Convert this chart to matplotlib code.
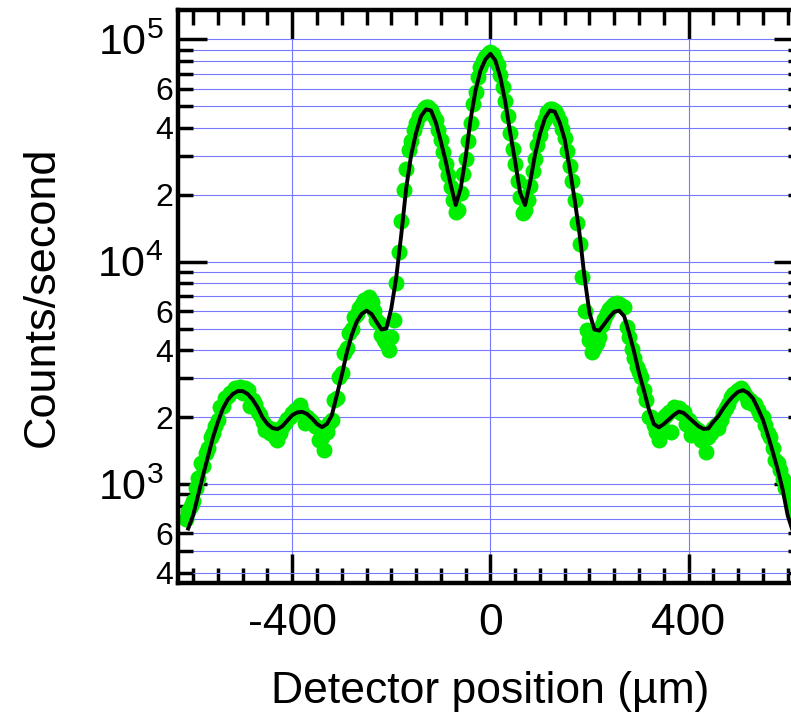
import matplotlib
matplotlib.use("Agg")
import matplotlib.pyplot as plt
from matplotlib.ticker import MultipleLocator, FixedLocator, FixedFormatter

plt.rcParams['font.family'] = ['Liberation Sans', 'DejaVu Sans']
plt.rcParams['mathtext.fontset'] = 'custom'
plt.rcParams['mathtext.rm'] = 'Liberation Sans'
plt.rcParams['mathtext.it'] = 'Liberation Sans:italic'
plt.rcParams['mathtext.bf'] = 'Liberation Sans:bold'

# ---- measured data (detector position in um, counts/second) ----
data_x = [
    -615, -610, -605, -600, -595, -590, -585, -580, -575, -570,
    -565, -560, -555, -550, -545, -540, -535, -530, -525, -520,
    -515, -510, -505, -500, -495, -490, -485, -480, -475, -470,
    -465, -460, -455, -450, -445, -440, -435, -430, -425, -420,
    -415, -410, -405, -400, -395, -390, -385, -380, -375, -370,
    -365, -360, -355, -350, -345, -340, -335, -330, -325, -320,
    -315, -310, -305, -300, -295, -290, -285, -280, -275, -270,
    -265, -260, -255, -250, -245, -240, -235, -230, -225, -220,
    -215, -210, -205, -200, -195, -190, -185, -180, -175, -170,
    -165, -160, -155, -150, -145, -140, -135, -130, -125, -120,
    -115, -110, -105, -100, -95, -90, -85, -80, -75, -70,
    -65, -60, -55, -50, -45, -40, -35, -30, -25, -20,
    -15, -10, -5, 0, 5, 10, 15, 20, 25, 30,
    35, 40, 45, 50, 55, 60, 65, 70, 75, 80,
    85, 90, 95, 100, 105, 110, 115, 120, 125, 130,
    135, 140, 145, 150, 155, 160, 165, 170, 175, 180,
    185, 190, 195, 200, 205, 210, 215, 220, 225, 230,
    235, 240, 245, 250, 255, 260, 265, 270, 275, 280,
    285, 290, 295, 300, 305, 310, 315, 320, 325, 330,
    335, 340, 345, 350, 355, 360, 365, 370, 375, 380,
    385, 390, 395, 400, 405, 410, 415, 420, 425, 430,
    435, 440, 445, 450, 455, 460, 465, 470, 475, 480,
    485, 490, 495, 500, 505, 510, 515, 520, 525, 530,
    535, 540, 545, 550, 555, 560, 565, 570, 575, 580,
    585, 590, 595, 600, 605, 610, 615,
]
data_y = [
    700, 760, 800, 840, 960, 1060, 1250, 1200, 1380, 1450,
    1620, 1700, 1820, 1950, 2230, 2250, 2450, 2500, 2560, 2620,
    2700, 2640, 2720, 2580, 2700, 2650, 2250, 2400, 2300, 2100,
    2050, 1900, 1750, 1800, 1700, 1760, 1620, 1580, 1700, 1800,
    1880, 1960, 2010, 2080, 2150, 2180, 2260, 2120, 1880, 2000,
    1950, 1900, 1820, 1800, 1580, 1620, 1430, 1720, 1880, 1950,
    2380, 2450, 3040, 3150, 3870, 4100, 4760, 5000, 5650, 5800,
    6200, 6480, 6700, 6800, 6950, 6600, 6000, 5460, 5300, 4700,
    4440, 4300, 4000, 4580, 5460, 8000, 11000, 15300, 21000, 26100,
    31700, 35000, 39000, 42000, 45000, 46300, 48500, 49600, 49600, 48000,
    45500, 43300, 39000, 35200, 31000, 27600, 24500, 21700, 19000, 16800,
    17100, 20300, 24900, 29000, 34800, 41900, 51000, 58000, 68000, 75000,
    80000, 83200, 86000, 87500, 86000, 82000, 77000, 69000, 61000, 53000,
    45000, 38000, 32000, 27500, 23000, 19500, 16500, 17000, 19000, 22000,
    25500, 29000, 33500, 37000, 41000, 44000, 47000, 48500, 48800, 47500,
    45500, 43000, 39500, 36000, 31500, 27000, 23000, 19000, 15000, 12000,
    8500, 6000, 4930, 4440, 3930, 4100, 4300, 4590, 5190, 5500,
    5850, 6100, 6300, 6450, 6500, 6450, 6300, 6280, 5100, 4600,
    4070, 3700, 3370, 3200, 3030, 2650, 2380, 2000, 2000, 1850,
    1720, 1577, 1900, 2000, 2050, 2110, 1720, 2230, 2150, 2200,
    2080, 2100, 1870, 1950, 1660, 1800, 1700, 1750, 1577, 1650,
    1400, 1633, 1700, 1780, 1850, 1780, 1950, 2080, 2200, 2300,
    2470, 2550, 2600, 2650, 2700, 2620, 2500, 2340, 2400, 2300,
    2300, 2150, 2050, 2000, 1850, 1700, 1633, 1450, 1280, 1250,
    1155, 1050, 960, 950, 880, 800, 740,
]

# ---- fitted curve ----
fit_x = [
    -610, -600, -590, -580, -570, -560, -550, -540, -530, -520,
    -510, -500, -490, -480, -470, -460, -450, -440, -430, -420,
    -410, -400, -390, -380, -370, -360, -350, -340, -330, -320,
    -310, -300, -290, -280, -270, -260, -250, -240, -230, -220,
    -210, -200, -190, -180, -170, -160, -150, -140, -130, -120,
    -110, -100, -90, -80, -70, -60, -50, -40, -30, -20,
    -10, 0, 10, 20, 30, 40, 50, 60, 70, 80,
    90, 100, 110, 120, 130, 140, 150, 160, 170, 180,
    190, 200, 210, 220, 230, 240, 250, 260, 270, 280,
    290, 300, 310, 320, 330, 340, 350, 360, 370, 380,
    390, 400, 410, 420, 430, 440, 450, 460, 470, 480,
    490, 500, 510, 520, 530, 540, 550, 560, 570, 580,
    590, 600, 610,
]
fit_y = [
    631, 724, 891, 1096, 1334, 1622, 1905, 2188, 2399, 2541,
    2618, 2618, 2541, 2399, 2213, 1995, 1862, 1786, 1766, 1820,
    1928, 2042, 2099, 2113, 2065, 1972, 1862, 1803, 1862, 2042,
    2512, 3090, 3890, 4677, 5370, 5821, 6026, 5821, 5370, 4955,
    5012, 6166, 8511, 13183, 21380, 30200, 38019, 45186, 48417, 47863,
    42170, 34674, 28184, 22131, 17989, 21380, 29512, 43652, 58884, 72444,
    81283, 86099, 80353, 67608, 52481, 38019, 28184, 20417, 17989, 22646,
    30200, 37584, 44157, 47863, 47315, 42170, 35481, 26303, 19055, 13335,
    8511, 5888, 4955, 4898, 5248, 5623, 5957, 6026, 5689, 4786,
    3936, 3162, 2630, 2163, 1862, 1799, 1862, 1950, 2042, 2118,
    2089, 1995, 1905, 1820, 1770, 1778, 1905, 2018, 2188, 2344,
    2483, 2600, 2642, 2570, 2427, 2188, 1950, 1660, 1396, 1161,
    944, 724, 617,
]

# ---- ticks and labels ----
x_major_vals = [-400, 0, 400]
x_major_labels = ['-400', '0', '400']
y_major_vals = [1e3, 1e4, 1e5]
y_major_labels = [r'$\mathdefault{10^{3}}$', r'$\mathdefault{10^{4}}$', r'$\mathdefault{10^{5}}$']
y_minor_vals = [400, 500, 600, 700, 800, 900,
                2000, 3000, 4000, 5000, 6000, 7000, 8000, 9000,
                20000, 30000, 40000, 50000, 60000, 70000, 80000, 90000]
y_minor_labels = ['4', '', '6', '', '', '',
                  '2', '', '4', '', '6', '', '', '',
                  '2', '', '4', '', '6', '', '', '']

W, H = 791, 712
fig = plt.figure(figsize=(W / 100, H / 100), dpi=100)
left_px, right_px, top_px, bot_px = 178.3, 802.5, 10.0, 583.0
rect = [left_px / W, (H - bot_px) / H, (right_px - left_px) / W, (bot_px - top_px) / H]

ax = fig.add_axes(rect)
ax.set_xlim(-630, 630)
ax.set_yscale('log')
ax.set_ylim(359, 1.355e5)
ax.set_axisbelow(True)

grid_col = '#7878ff'
ax.plot(data_x, data_y, 'o', color='#00ee00', ms=11.5, mec='none', zorder=2)
ax.plot(fit_x, fit_y, color='black', lw=2.8, zorder=3)

ax.xaxis.set_major_locator(FixedLocator(x_major_vals))
ax.xaxis.set_major_formatter(FixedFormatter(x_major_labels))
ax.xaxis.set_minor_locator(MultipleLocator(50))
ax.yaxis.set_major_locator(FixedLocator(y_major_vals))
ax.yaxis.set_major_formatter(FixedFormatter(y_major_labels))
ax.yaxis.set_minor_locator(FixedLocator(y_minor_vals))
ax.yaxis.set_minor_formatter(FixedFormatter(y_minor_labels))

ax.yaxis.grid(True, which='both', color=grid_col, lw=0.8)
ax.xaxis.grid(True, which='major', color=grid_col, lw=0.8)

ax.tick_params(which='both', direction='in', top=True, right=True,
               width=2.5, color='black')
ax.tick_params(which='major', length=21)
ax.tick_params(which='minor', length=11)
ax.tick_params(axis='x', which='major', labelsize=32, pad=14.5)
ax.tick_params(axis='y', which='major', labelsize=31, pad=10.8)
ax.tick_params(axis='y', which='minor', labelsize=23, pad=3.6)
for s in ax.spines.values():
    s.set_linewidth(3.2)

ax.set_xlabel('Detector position (µm)', fontsize=32)
ax.xaxis.set_label_coords(0.5, -0.1536)
ax.set_ylabel('Counts/second', fontsize=32.5)
ax.yaxis.set_label_coords(-0.1855, 0.5)

fig.savefig('out.png', dpi=100)
